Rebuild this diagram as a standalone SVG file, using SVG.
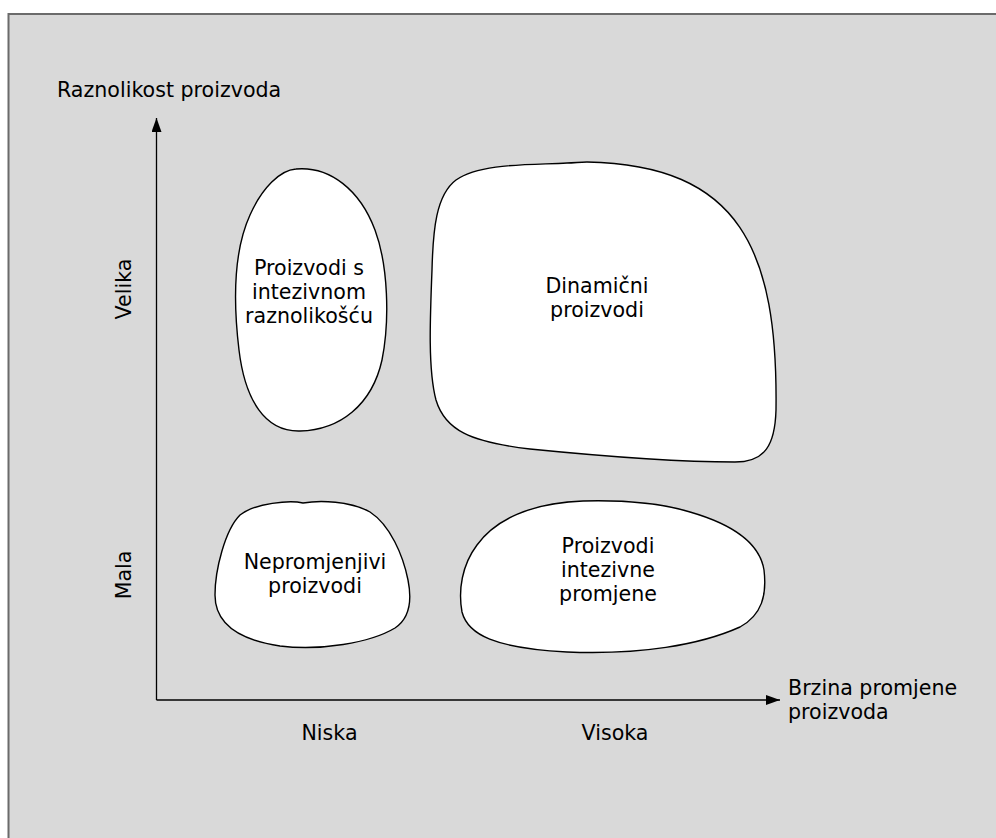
<svg xmlns="http://www.w3.org/2000/svg" width="996" height="838" viewBox="0 0 996 838">
<defs>
<style>
text{font-family:"DejaVu Sans","Verdana",sans-serif;font-size:20.6px;fill:#000}
.blob{fill:#fff;stroke:#000;stroke-width:1.4}
.ctr{text-anchor:middle}
.axis{stroke:#000;stroke-width:1.3;fill:none}
</style>
<marker id="arr" viewBox="0 0 14 10" refX="14" refY="5" markerWidth="14" markerHeight="10" markerUnits="userSpaceOnUse" orient="auto">
<path d="M0 0 L14 5 L0 10 Z" fill="#000"/>
</marker>
</defs>
<rect x="8.5" y="14" width="1000" height="840" fill="#d9d9d9" stroke="#6b6b6b" stroke-width="2"/>
<g id="connectors">
<path class="axis" d="M156.5 700 L156.5 118" marker-end="url(#arr)"/>
<path class="axis" d="M156.5 700 L780 700" marker-end="url(#arr)"/>
</g>
<g id="axis-labels">
<text x="57" y="97">Raznolikost proizvoda</text>
<text x="788" y="695">Brzina promjene</text>
<text x="788" y="719">proizvoda</text>
<text class="ctr" x="329.5" y="740">Niska</text>
<text class="ctr" x="615" y="740">Visoka</text>
<text class="ctr" transform="translate(131 289) rotate(-90)">Velika</text>
<text class="ctr" transform="translate(131 575) rotate(-90)">Mala</text>
</g>
<g id="node-intezivna-raznolikost">
<path class="blob" d="M296 169 C330 166 360 190 375 230 C388 265 390 320 382 360 C372 405 340 430 300 431 C265 432 245 400 239 350 C233 300 234 250 250 215 C262 188 280 170 296 169 Z"/>
<text class="ctr" x="309" y="275">Proizvodi s</text>
<text class="ctr" x="309" y="299">intezivnom</text>
<text class="ctr" x="309" y="323">raznolikošću</text>
</g>
<g id="node-dinamicni">
<path class="blob" d="M567 163 C530 165 480 163 456 180 C436 195 433 230 432 270 C430 320 428 370 436 400 C445 430 470 442 530 449 C600 456 680 462 735 462 C765 462 775 445 776 410 C778 250 740 165 587 162 C580 162 574 163 567 163 Z"/>
<text class="ctr" x="597" y="293">Dinamični</text>
<text class="ctr" x="597" y="317">proizvodi</text>
</g>
<g id="node-nepromjenjivi">
<path class="blob" d="M303 503 C290 500 255 503 240 515 C225 530 215 570 215 595 C215 625 240 640 280 646 C320 651 370 643 395 628 C410 618 412 600 408 580 C403 555 390 525 370 512 C350 501 320 500 303 503 Z"/>
<text class="ctr" x="315" y="569">Nepromjenjivi</text>
<text class="ctr" x="315" y="593">proizvodi</text>
</g>
<g id="node-intezivne-promjene">
<path class="blob" d="M583 501 C530 503 495 520 477 545 C462 565 458 590 462 612 C468 635 495 648 567 652 C640 655 700 645 740 627 C762 615 767 595 764 570 C760 545 735 525 690 512 C660 503 620 500 583 501 Z"/>
<text class="ctr" x="608" y="553">Proizvodi</text>
<text class="ctr" x="608" y="577">intezivne</text>
<text class="ctr" x="608" y="601">promjene</text>
</g>
</svg>
